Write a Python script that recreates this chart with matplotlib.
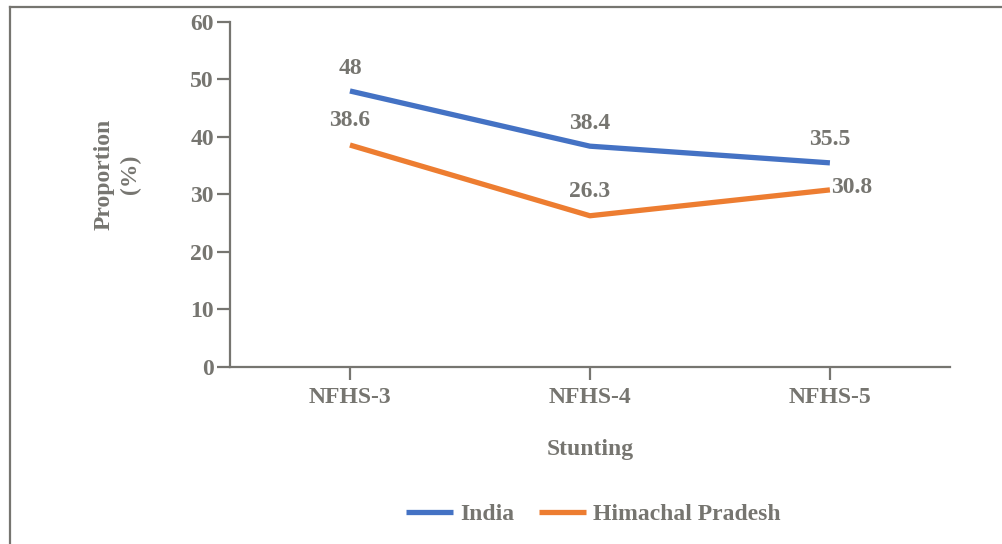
import matplotlib.pyplot as plt
from matplotlib.lines import Line2D

rounds = ["NFHS-3", "NFHS-4", "NFHS-5"]
india = [48, 38.4, 35.5]
himachal = [38.6, 26.3, 30.8]
y_ticks = [0, 10, 20, 30, 40, 50, 60]

grey = "#767570"
blue = "#4472C4"
orange = "#ED7D31"
fs = 17

plt.rcParams["font.family"] = ["Liberation Serif", "DejaVu Serif"]
plt.rcParams["font.weight"] = "bold"

fig = plt.figure(figsize=(10.02, 5.44), dpi=100)
ax = fig.add_axes([0.2295, 0.3254, 0.7185, 0.6342])

x = range(len(rounds))
ax.plot(x, india, color=blue, lw=3.8, solid_capstyle="butt", label="India")
ax.plot(x, himachal, color=orange, lw=3.8, solid_capstyle="butt",
        label="Himachal Pradesh")

# value labels above each point; last Himachal value sits to the right
for i, v in enumerate(india):
    ax.annotate(f"{v:g}", (i, v), xytext=(0, 16.5), textcoords="offset points",
                ha="center", va="center", fontsize=fs, color=grey,
                fontweight="bold")
for i, v in enumerate(himachal):
    if i == len(himachal) - 1:
        ax.annotate(f"{v:g}", (i, v), xytext=(1, 2), textcoords="offset points",
                    ha="left", va="center", fontsize=fs, color=grey,
                    fontweight="bold")
    else:
        ax.annotate(f"{v:g}", (i, v), xytext=(0, 17.5), textcoords="offset points",
                    ha="center", va="center", fontsize=fs, color=grey,
                    fontweight="bold")

ax.set_xlim(-0.5, 2.5)
ax.set_ylim(0, 60)
ax.set_xticks(list(x))
ax.set_xticklabels(rounds)
ax.set_yticks(y_ticks)

for side in ["top", "right"]:
    ax.spines[side].set_visible(False)
for side in ["left", "bottom"]:
    ax.spines[side].set_color(grey)
    ax.spines[side].set_linewidth(1.6)

ax.tick_params(axis="both", colors=grey, labelsize=fs, width=1.6, length=9.5,
               direction="out")
ax.tick_params(axis="x", pad=5)
ax.tick_params(axis="y", pad=2)
for lbl in ax.get_xticklabels() + ax.get_yticklabels():
    lbl.set_fontweight("bold")

ax.set_xlabel("Stunting", fontsize=fs, color=grey, fontweight="bold",
              labelpad=22)
ax.set_ylabel("Proportion\n(%)", fontsize=fs, color=grey, fontweight="bold",
              linespacing=1.35)
ax.yaxis.set_label_coords(-0.123, 0.559)

leg = fig.legend(loc="center", bbox_to_anchor=(0.592, 0.054), ncol=2,
                 frameon=False, fontsize=fs, handlelength=2.0,
                 columnspacing=1.05, handletextpad=0.3)
for t in leg.get_texts():
    t.set_color(grey)
    t.set_fontweight("bold")

# outer frame: left and top edges only
fig.add_artist(Line2D([9.5 / 1002, 9.5 / 1002], [0, 1 - 7 / 544],
                      transform=fig.transFigure, color=grey, lw=1.6))
fig.add_artist(Line2D([9.5 / 1002, 1], [1 - 7 / 544, 1 - 7 / 544],
                      transform=fig.transFigure, color=grey, lw=1.6))

fig.savefig("out.png", dpi=100)
plt.close(fig)
